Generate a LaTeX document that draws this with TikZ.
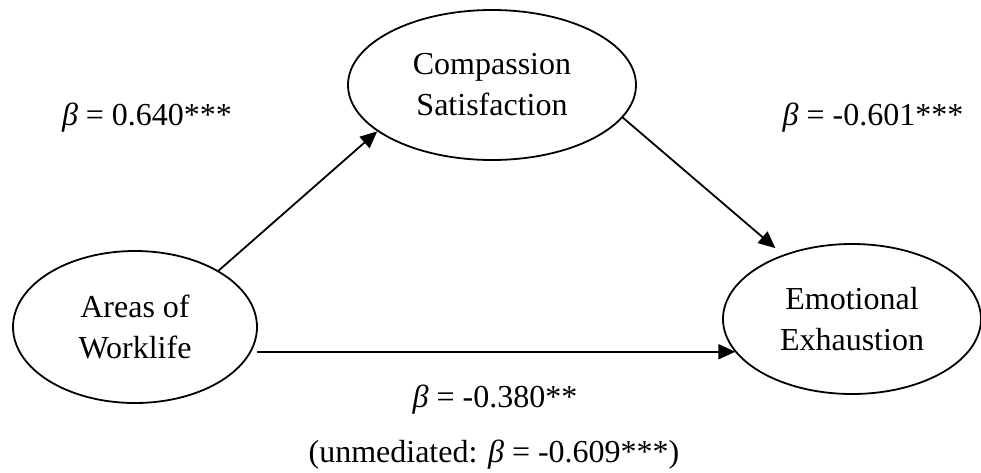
\documentclass[tikz,border=0pt]{standalone}
\usepackage{fontspec}
\setmainfont{Liberation Serif}
\usetikzlibrary{arrows.meta, shapes.geometric}

\begin{document}
\begin{tikzpicture}[
  x=0.5pt, y=-0.5pt,
  >={Triangle[length=8.5pt, width=7.5pt]},
  line width=0.9pt,
  construct/.style={ellipse, draw, inner sep=0pt, align=center,
    font=\fontsize{16}{20.5}\selectfont},
  coef/.style={anchor=base, inner sep=0pt,
    font=\fontsize{16}{19}\selectfont},
]

%% ─── 座標系 ────────────────────────────────────────────────
%%  1 単位 = 参照画像の 1 px（981 x 472）、y は下向き
\useasboundingbox (0,0) rectangle (981,472);

% ── 構成概念（楕円） ─────────────────────────────────────────
\node[construct, minimum width=122pt, minimum height=76pt]
  (aw) at (135,327) {Areas of\\Worklife};
\node[construct, minimum width=144pt, minimum height=75pt]
  (cs) at (492,85) {Compassion\\Satisfaction};
\node[construct, minimum width=129pt, minimum height=75pt]
  (ee) at (852,319) {Emotional\\Exhaustion};

% ── パス（矢印） ─────────────────────────────────────────────
\draw[->] (aw.34) -- (cs.202);
\draw[->, shorten >=5pt] (cs.-14) -- (ee.137);
\draw[->, shorten <=3pt] (aw.-12) -- (aw.-12 -| ee.196);

% ── 係数ラベル ───────────────────────────────────────────────
\node[coef] (b1) at (147,125) {{\itshape β} = 0.640***};
\node[coef] (b2) at (873,125) {{\itshape β} = -0.601***};
\node[coef] (b3) at (495,407) {{\itshape β} = -0.380**};
\node[coef] (b4) at (494,462) {(unmediated: {\itshape β} = -0.609***)};

\end{tikzpicture}
\end{document}
